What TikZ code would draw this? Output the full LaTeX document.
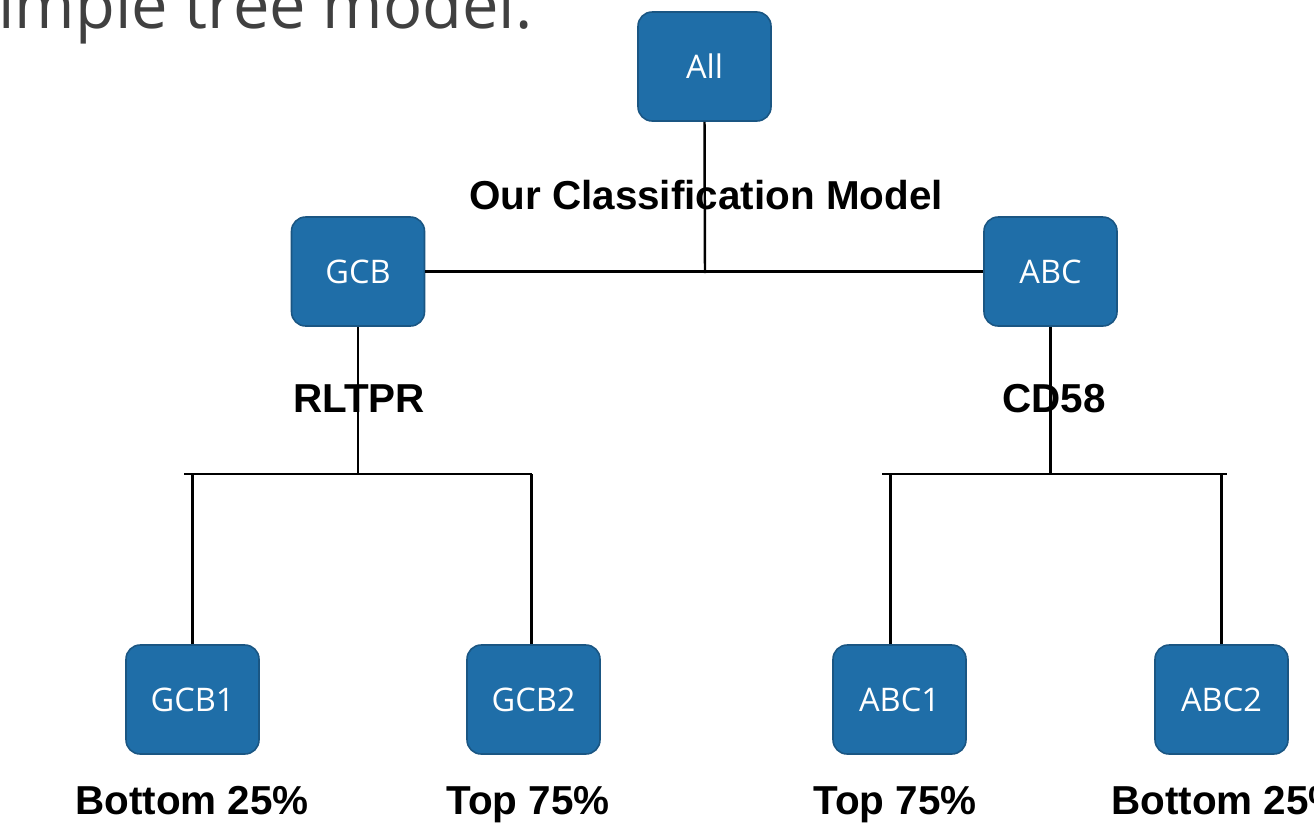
\documentclass[tikz,border=0pt]{standalone}
\usepackage{fontspec}
\setmainfont{Liberation Sans}
\newfontfamily\opensans{Open Sans}
\usepackage{xcolor}
\usetikzlibrary{positioning,calc}
\definecolor{boxblue}{HTML}{1F6EA8}
\definecolor{boxedge}{HTML}{1A5683}
\definecolor{titlegray}{HTML}{404040}

\begin{document}
\begin{tikzpicture}[x=0.02cm,y=-0.02cm]
  \tikzset{
    box/.style={rounded corners=8pt,minimum width=2.66cm,minimum height=2.18cm,
      fill=boxblue,draw=boxedge,line width=.9pt,text=white,
      font=\opensans\fontsize{18.5}{20}\selectfont},
    lbl/.style={font=\bfseries\fontsize{23}{26}\selectfont,anchor=base,inner sep=0pt},
    link/.style={line width=1.4pt,black}
  }
  \fill[white] (0,0) rectangle (1314,825);
  \useasboundingbox (0,0) rectangle (1314,825);
  \clip (0,0) rectangle (1314,825);

  \node[font=\opensans\fontsize{37}{40}\selectfont,text=titlegray,anchor=base west,inner sep=0pt]
    (title) at (-2,28) {imple tree model.};

  % tree boxes
  \node[box] (all) at (704.5,66.5) {All};
  \node[box] (gcb) at (358,271.5) {GCB};
  \node[box] (abc) at (1050.5,271.5) {ABC};
  \node[box] (gcb1) at (192.5,699.5) {GCB1};
  \node[box] (gcb2) at (533.5,699.5) {GCB2};
  \node[box] (abc1) at (899.5,699.5) {ABC1};
  \node[box] (abc2) at (1221.5,699.5) {ABC2};

  % split labels
  \node[lbl] (model) at (706,209) {Our Classification Model};
  \node[lbl] (rltpr) at (359,412) {RLTPR};
  \node[lbl] (cd58) at (1054,412) {CD58};
  \node[lbl] (gcb1lbl) at (192,814) {Bottom 25\%};
  \node[lbl] (gcb2lbl) at (528,814) {Top 75\%};
  \node[lbl] (abc1lbl) at (895,814) {Top 75\%};
  \node[lbl,anchor=base west] (abc2lbl) at (1111,814) {Bottom 25\%};

  % connectors
  \coordinate (rootjoin) at (705,273);
  \coordinate (gbarl) at (184,474);
  \coordinate (gbarr) at (532,474);
  \coordinate (abarl) at (882,474);
  \coordinate (abarr) at (1227,474);
  \draw[link] (all.south) -- (rootjoin);
  \draw[link] (gcb.east) -- (abc.west);
  \draw[link] (gcb.south) -- (gcb.south |- gbarl);
  \draw[link] (gbarl) -- (gbarr);
  \draw[link] (abc.south) -- (abc.south |- abarl);
  \draw[link] (abarl) -- (abarr);
  \draw[link] (gcb1.north) -- (gcb1.north |- gbarl);
  \draw[link] ($(gcb2.north)+(-2,0)$) -- ($(gcb2.north |- gbarl)+(-2,0)$);
  \draw[link] ($(abc1.north)+(-9,0)$) -- ($(abc1.north |- abarl)+(-9,0)$);
  \draw[link] (abc2.north) -- (abc2.north |- abarl);
\end{tikzpicture}
\end{document}
